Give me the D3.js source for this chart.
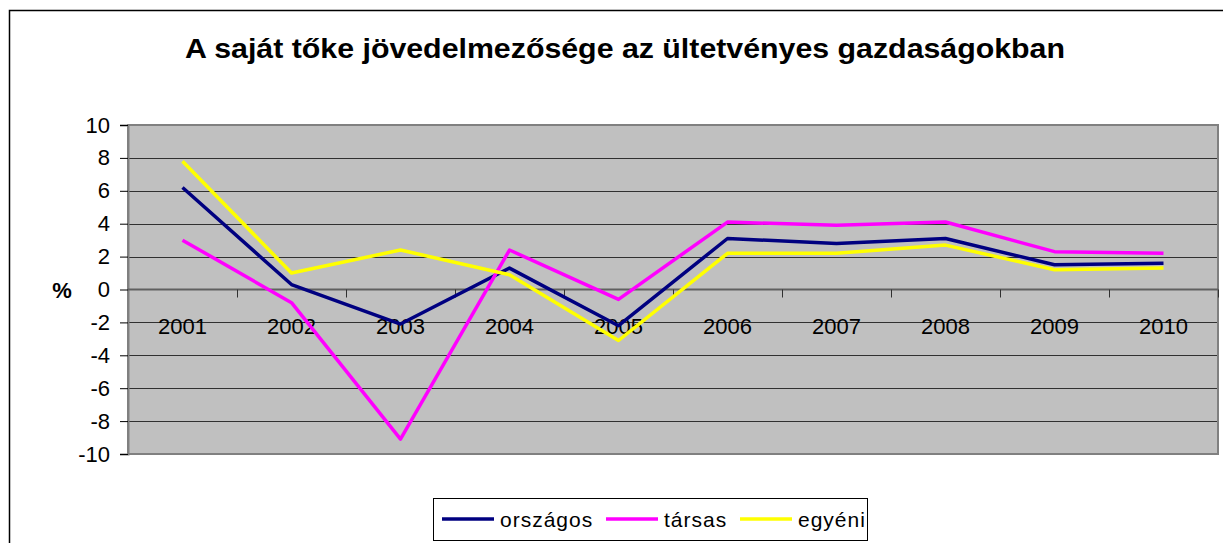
<!DOCTYPE html>
<html>
<head>
<meta charset="utf-8">
<script src="https://cdn.jsdelivr.net/npm/d3@7"></script>
<style>
  body { margin: 0; background: #fff; }
  text { font-family: "Liberation Sans", Arial, sans-serif; }
</style>
</head>
<body>
<svg width="1223" height="543"></svg>
<script>
let title = 'A saját tőke jövedelmezősége az ültetvényes gazdaságokban';
let years = ['2001', '2002', '2003', '2004', '2005', '2006', '2007', '2008', '2009', '2010'];
let yTicks = [10, 8, 6, 4, 2, 0, -2, -4, -6, -8, -10];
let seriesNames = ['országos', 'társas', 'egyéni'];
let seriesColors = ['#000080', '#ff00ff', '#ffff00'];
let orszagos = [6.2, 0.3, -2.1, 1.3, -2.2, 3.1, 2.8, 3.1, 1.5, 1.6];
let tarsas = [3.0, -0.8, -9.1, 2.4, -0.6, 4.1, 3.9, 4.1, 2.3, 2.2];
let egyeni = [7.8, 1.0, 2.4, 0.9, -3.1, 2.2, 2.2, 2.7, 1.2, 1.3];
let seriesValues = [orszagos, tarsas, egyeni];

let svg = d3.select('svg');
let plot = {left: 128, top: 125, right: 1218, bottom: 454};

// outer chart frame (runs off the right and bottom edge)
svg.append('rect')
  .attr('x', 9.5).attr('y', 10.5)
  .attr('width', 1300).attr('height', 600)
  .attr('fill', 'none').attr('stroke', '#000').attr('stroke-width', 1.5);

svg.append('text')
  .attr('x', 625).attr('y', 58)
  .attr('text-anchor', 'middle')
  .attr('font-size', 28).attr('font-weight', 'bold')
  .attr('textLength', 880).attr('lengthAdjust', 'spacingAndGlyphs')
  .text(title);

let x = d3.scaleBand().domain(years).range([plot.left, plot.right]);
let y = d3.scaleLinear().domain([-10, 10]).range([plot.bottom, plot.top]);

svg.append('rect')
  .attr('x', plot.left).attr('y', plot.top)
  .attr('width', plot.right - plot.left).attr('height', plot.bottom - plot.top)
  .attr('fill', '#c0c0c0');

// horizontal gridlines
svg.append('g').selectAll('line').data(yTicks.filter(function(d){ return d != 0 && d != 10 && d != -10; }))
  .enter().append('line')
  .attr('x1', plot.left).attr('x2', plot.right)
  .attr('y1', function(d){ return Math.round(y(d)) + 0.5; })
  .attr('y2', function(d){ return Math.round(y(d)) + 0.5; })
  .attr('stroke', '#303030').attr('stroke-width', 1);

// plot border
svg.append('rect')
  .attr('x', plot.left).attr('y', plot.top)
  .attr('width', plot.right - plot.left).attr('height', plot.bottom - plot.top)
  .attr('fill', 'none').attr('stroke', '#808080').attr('stroke-width', 2);

// y axis
let yAxis = svg.append('g')
  .attr('transform', 'translate(' + plot.left + ',0)')
  .call(d3.axisLeft(y).tickValues(yTicks).tickSize(8).tickPadding(10).tickFormat(function(d){ return String(d); }));
yAxis.select('.domain').attr('stroke', '#808080').attr('stroke-width', 2);
yAxis.selectAll('.tick line').attr('stroke', '#000');
yAxis.selectAll('text').attr('font-size', 22).attr('fill', '#000')
  .attr('font-family', '"Liberation Sans", Arial, sans-serif');

svg.append('text')
  .attr('x', 62).attr('y', 298)
  .attr('text-anchor', 'middle')
  .attr('font-size', 22).attr('font-weight', 'bold')
  .text('%');

// x axis at zero
let xAxis = svg.append('g')
  .attr('transform', 'translate(0,' + y(0) + ')');
xAxis.append('line')
  .attr('x1', plot.left).attr('x2', plot.right)
  .attr('stroke', '#606060').attr('stroke-width', 2);
xAxis.selectAll('line.tk').data(years.slice(1).concat(['end']))
  .enter().append('line')
  .attr('class', 'tk')
  .attr('x1', function(d, i){ return Math.round(x.range()[0] + x.step() * (i + 1)) + 0.5; })
  .attr('x2', function(d, i){ return Math.round(x.range()[0] + x.step() * (i + 1)) + 0.5; })
  .attr('y1', 0).attr('y2', 8)
  .attr('stroke', '#303030');
xAxis.selectAll('text').data(years)
  .enter().append('text')
  .attr('x', function(d){ return x(d) + x.bandwidth() / 2; })
  .attr('y', 44)
  .attr('text-anchor', 'middle')
  .attr('font-size', 22)
  .text(function(d){ return d; });

// series
let line = d3.line()
  .x(function(d, i){ return x(years[i]) + x.bandwidth() / 2; })
  .y(function(d){ return y(d); });

svg.append('g').selectAll('path').data(seriesValues)
  .enter().append('path')
  .attr('d', line)
  .attr('fill', 'none')
  .attr('stroke', function(d, i){ return seriesColors[i]; })
  .attr('stroke-width', 3.5)
  .attr('stroke-linejoin', 'round');

// legend
let legend = svg.append('g');
legend.append('rect')
  .attr('x', 433.5).attr('y', 498.5).attr('width', 434).attr('height', 42)
  .attr('fill', '#fff').attr('stroke', '#000').attr('stroke-width', 1);
let legendX = [442, 606, 740];
let item = legend.selectAll('g.item').data(seriesNames)
  .enter().append('g')
  .attr('class', 'item')
  .attr('transform', function(d, i){ return 'translate(' + legendX[i] + ',519)'; });
item.append('line')
  .attr('x1', 0).attr('x2', 52)
  .attr('stroke', function(d, i){ return seriesColors[i]; })
  .attr('stroke-width', 3.5);
item.append('text')
  .attr('x', 58).attr('y', 8)
  .attr('font-size', 21).attr('letter-spacing', 1)
  .text(function(d){ return d; });
</script>
</body>
</html>
